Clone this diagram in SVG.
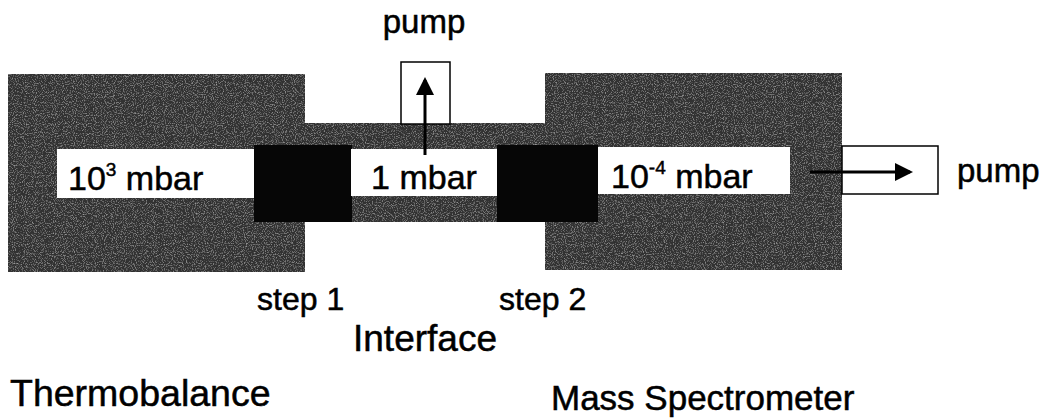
<svg xmlns="http://www.w3.org/2000/svg" width="1045" height="420" viewBox="0 0 1045 420">
<defs>
<style>
text{font-family:"Liberation Sans",Arial,sans-serif;fill:#000;stroke:#000;stroke-width:0.5}
.chamber{fill:#323232}
.block{fill:#060606}
.label{fill:#fff}
.pumpbox{fill:#fff;stroke:#000;stroke-width:1.5}
.arrow{stroke:#000;stroke-width:3;fill:none}
</style>
<filter id="grain" x="0" y="0" width="100%" height="100%">
<feTurbulence type="fractalNoise" baseFrequency="0.9" numOctaves="2" seed="3" result="n"/>
<feColorMatrix in="n" type="matrix" values="0 0 0 0 0.5  0 0 0 0 0.5  0 0 0 0 0.5  0 0 0 1.6 -0.8" result="g"/>
<feComposite in="g" in2="SourceGraphic" operator="in" result="gc"/>
<feMerge><feMergeNode in="SourceGraphic"/><feMergeNode in="gc"/></feMerge>
</filter>
<marker id="ah" markerWidth="6" markerHeight="6" refX="5" refY="3" orient="auto" markerUnits="strokeWidth">
<path d="M0,0 L6,3 L0,6 Z" fill="#000"/>
</marker>
</defs>
<g id="thermobalance">
<rect class="chamber" x="8" y="74" width="297" height="198" filter="url(#grain)"/>
<text x="10" y="406" font-size="37.5">Thermobalance</text>
</g>
<g id="mass-spectrometer">
<rect class="chamber" x="545" y="73" width="297" height="197" filter="url(#grain)"/>
<text x="551" y="410" font-size="35">Mass Spectrometer</text>
</g>
<g id="interface">
<rect class="chamber" x="303" y="123" width="244" height="99" filter="url(#grain)"/>
<rect class="block" x="254" y="145" width="98" height="77"/>
<rect class="block" x="497" y="145" width="101" height="77"/>
<text x="425" y="351" font-size="37" text-anchor="middle">Interface</text>
<text x="257" y="310" font-size="32">step 1</text>
<text x="499" y="310" font-size="32">step 2</text>
</g>
<g id="pump-top">
<rect class="pumpbox" x="401" y="62" width="49" height="62"/>
<text x="424" y="33" font-size="33" text-anchor="middle">pump</text>
</g>
<g id="pump-right">
<rect class="pumpbox" x="842" y="146" width="96" height="48"/>
<text x="957" y="182" font-size="33">pump</text>
</g>
<g id="labels">
<rect class="label" x="57" y="149" width="197" height="49"/>
<text x="68" y="190" font-size="34">10<tspan font-size="19" dy="-14">3</tspan><tspan dy="14"> mbar</tspan></text>
<rect class="label" x="351" y="149" width="146" height="47"/>
<text x="424" y="189" font-size="34" text-anchor="middle">1 mbar</text>
<rect class="label" x="598" y="147" width="192" height="47"/>
<text x="611" y="188" font-size="34">10<tspan font-size="19" dy="-14">-4</tspan><tspan dy="14"> mbar</tspan></text>
</g>
<g id="connectors">
<line class="arrow" x1="425" y1="155" x2="425" y2="80" marker-end="url(#ah)"/>
<line class="arrow" x1="810" y1="172" x2="910" y2="172" marker-end="url(#ah)"/>
</g>
</svg>
